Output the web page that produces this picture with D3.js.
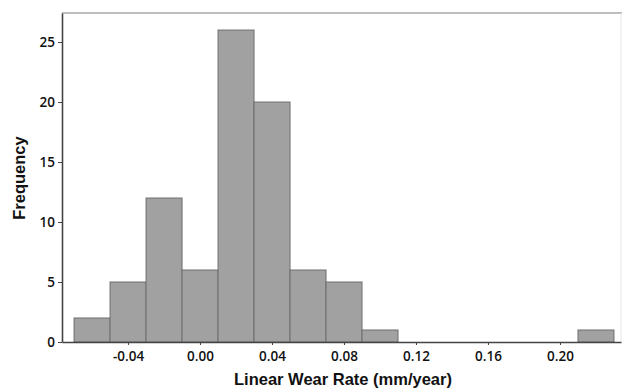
<!DOCTYPE html>
<html><head><meta charset="utf-8">
<script src="https://cdn.jsdelivr.net/npm/d3@7"></script>
<style>body{margin:0;background:#fff}svg{display:block}</style>
</head><body><svg id="c" width="622" height="388"></svg>
<script>
const binStarts = [-0.07,-0.05,-0.03,-0.01,0.01,0.03,0.05,0.07,0.09,0.11,0.13,0.15,0.17,0.19,0.21];
const binWidth = 0.02;
const frequencies = [2,5,12,6,26,20,6,5,1,0,0,0,0,0,1];
const xTicks = [-0.04,0.00,0.04,0.08,0.12,0.16,0.20];
const yTicks = [0,5,10,15,20,25];

const svg = d3.select("#c");
const L=62, R=621, T=13, B=342;
const x = d3.scaleLinear().domain([-0.0767,0.2339]).range([L,R]);
const y = d3.scaleLinear().domain([0,27.42]).range([B,T]);

const tickFont = "'Open Sans', sans-serif";
const titleFont = "'Liberation Sans', Arial, sans-serif";

// top border
svg.append("line").attr("x1",L).attr("x2",R+1).attr("y1",T).attr("y2",T)
  .attr("stroke","#bdbdbd").attr("stroke-width",2);
svg.append("line").attr("x1",R).attr("x2",R).attr("y1",T).attr("y2",B)
  .attr("stroke","#e6e6e6").attr("stroke-width",1);

// bars
const data = binStarts.map((s,i)=>({s, f:frequencies[i]})).filter(d=>d.f>0);
svg.append("g").selectAll("rect").data(data).join("rect")
  .attr("x",d=>x(d.s)).attr("width",d=>x(d.s+binWidth)-x(d.s))
  .attr("y",d=>y(d.f)).attr("height",d=>y(0)-y(d.f))
  .attr("fill","#a1a1a1").attr("stroke","#6e6e6e").attr("stroke-width",1);

// axes
const fmt = v => d3.format(".2f")(v).replace("\u2212","-");
const xAxis = d3.axisBottom(x).tickValues(xTicks).tickFormat(fmt).tickSize(3).tickSizeOuter(0);
const gx = svg.append("g").attr("transform",`translate(0,${B})`).call(xAxis);
gx.select(".domain").attr("stroke","#444").attr("stroke-width",1.6);
gx.selectAll(".tick line").attr("stroke","#444");
gx.selectAll("text").attr("font-family",tickFont).attr("font-weight",600).attr("font-size",13.5).attr("fill","#111").attr("dy","0.95em");

const yAxis = d3.axisLeft(y).tickValues(yTicks).tickSize(4).tickSizeOuter(0);
const gy = svg.append("g").attr("transform",`translate(${L},0)`).call(yAxis);
gy.select(".domain").attr("stroke","#444").attr("stroke-width",1.6);
gy.selectAll(".tick line").attr("stroke","#444");
gy.selectAll("text").attr("font-family",tickFont).attr("font-weight",600).attr("font-size",13.5).attr("fill","#111").attr("x",-7);

// titles
svg.append("text").attr("x",343).attr("y",385).attr("text-anchor","middle")
  .attr("font-family",titleFont).attr("font-weight",700).attr("font-size",16.5).attr("fill","#111")
  .text("Linear Wear Rate (mm/year)");
svg.append("text").attr("transform","translate(25,178) rotate(-90)").attr("text-anchor","middle")
  .attr("font-family",titleFont).attr("font-weight",700).attr("font-size",16.5).attr("fill","#111")
  .text("Frequency");
</script></body></html>
